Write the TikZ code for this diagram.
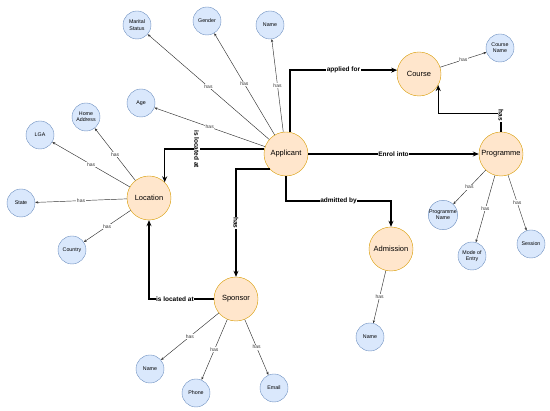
\documentclass[tikz,border=0pt]{standalone}
\usepackage{fontspec}
\setmainfont{Liberation Sans}
\usepackage{xcolor}
\usepackage{tikz}
\usetikzlibrary{positioning,arrows.meta}

\definecolor{entityfill}{HTML}{FFE6CC}
\definecolor{entitydraw}{HTML}{D79B00}
\definecolor{attrfill}{HTML}{DAE8FC}
\definecolor{attrdraw}{HTML}{6C8EBF}
\definecolor{edgegray}{HTML}{333333}

\begin{document}
\begin{tikzpicture}[
    x=1pt, y=-1pt,
    on grid,
    entity/.style={circle, draw=entitydraw, fill=entityfill, minimum size=44pt, inner sep=0pt, font=\fontsize{7.5}{9}\selectfont},
    attribute/.style={circle, draw=attrdraw, fill=attrfill, minimum size=28pt, inner sep=0pt, align=center, font=\fontsize{5.3}{6.3}\selectfont},
    hasline/.style={->, >={Stealth[length=3pt,width=2.4pt]}, draw=edgegray, line width=0.45pt},
    relline/.style={->, >={Stealth[length=6pt,width=5pt]}, line width=1.4pt},
    haslabel/.style={fill=white, inner sep=0.6pt, text=edgegray, font=\fontsize{5}{6}\selectfont},
    rellabel/.style={fill=white, inner sep=0.6pt, font=\bfseries\fontsize{6.5}{7.5}\selectfont}
]
\useasboundingbox (0,0) rectangle (550,411);

% Entities
\node[entity] (applicant) at (286,154) {Applicant};
\node[entity] (course) [above right=80pt and 133pt of applicant] {Course};
\node[entity] (programme) [right=215pt of applicant] {Programme};
\node[entity] (location) [below left=44pt and 137pt of applicant] {Location};
\node[entity] (sponsor) [below left=145pt and 50pt of applicant] {Sponsor};
\node[entity] (admission) [below right=95pt and 105pt of applicant] {Admission};

% Applicant attributes
\node[attribute] (applicant_marital) [above left=129pt and 149pt of applicant] {Marital\\Status};
\node[attribute] (applicant_gender) [above left=133pt and 79pt of applicant] {Gender};
\node[attribute] (applicant_name) [above left=129pt and 16pt of applicant] {Name};
\node[attribute] (applicant_age) [above left=51pt and 145pt of applicant] {Age};

% Location attributes
\node[attribute] (location_address) [above left=81pt and 63pt of location] {Home\\Address};
\node[attribute] (location_lga) [above left=63pt and 109pt of location] {LGA};
\node[attribute] (location_state) [below left=5pt and 128pt of location] {State};
\node[attribute] (location_country) [below left=52pt and 77pt of location] {Country};

% Course attributes
\node[attribute] (course_name) [above right=26pt and 81pt of course] {Course\\Name};

% Programme attributes
\node[attribute] (programme_name) [below left=61pt and 58pt of programme] {Programme\\Name};
\node[attribute] (programme_entry) [below left=102pt and 29pt of programme] {Mode of\\Entry};
\node[attribute] (programme_session) [below right=90pt and 30pt of programme] {Session};

% Sponsor attributes
\node[attribute] (sponsor_name) [below left=70pt and 86pt of sponsor] {Name};
\node[attribute] (sponsor_phone) [below left=94pt and 40pt of sponsor] {Phone};
\node[attribute] (sponsor_email) [below right=89pt and 38pt of sponsor] {Email};

% Admission attributes
\node[attribute] (admission_name) [below left=88pt and 21pt of admission] {Name};

% Attribute links
\draw[hasline] (applicant) -- node[haslabel] {has} (applicant_marital);
\draw[hasline] (applicant) -- node[haslabel] {has} (applicant_gender);
\draw[hasline] (applicant) -- node[haslabel] {has} (applicant_name);
\draw[hasline] (applicant) -- node[haslabel] {has} (applicant_age);
\draw[hasline] (location) -- node[haslabel] {has} (location_address);
\draw[hasline] (location) -- node[haslabel] {has} (location_lga);
\draw[hasline] (location) -- node[haslabel] {has} (location_state);
\draw[hasline] (location) -- node[haslabel] {has} (location_country);
\draw[hasline] (course) -- node[haslabel] {has} (course_name);
\draw[hasline] (programme) -- node[haslabel] {has} (programme_name);
\draw[hasline] (programme) -- node[haslabel] {has} (programme_entry);
\draw[hasline] (programme) -- node[haslabel] {has} (programme_session);
\draw[hasline] (sponsor) -- node[haslabel] {has} (sponsor_name);
\draw[hasline] (sponsor) -- node[haslabel] {has} (sponsor_phone);
\draw[hasline] (sponsor) -- node[haslabel] {has} (sponsor_email);
\draw[hasline] (admission) -- node[haslabel] {has} (admission_name);

% Relationships
\draw[relline] (applicant.80) |- node[rellabel, pos=0.75] {applied for} (course.170);
\draw[relline] (applicant.east) -- node[rellabel] {Enrol into} (programme.west);
\draw[relline] (applicant.south) -- ++(0,25) -| node[rellabel, pos=0.25] {admitted by} (admission.north);
\draw[relline] (programme.north) -- node[rellabel, pos=0.9, rotate=-90] {has} ++(0,-18) -| (course.-30);
\draw[relline] (applicant.167) -| node[rellabel, pos=0.34, rotate=-90] {is located at} (location.45);
\draw[relline] (applicant.223) -| node[rellabel, pos=0.75, rotate=-90] {has} (sponsor.north);
\draw[relline] (sponsor.west) -| node[rellabel, pos=0.3] {is located at} (location.south);

\end{tikzpicture}
\end{document}
